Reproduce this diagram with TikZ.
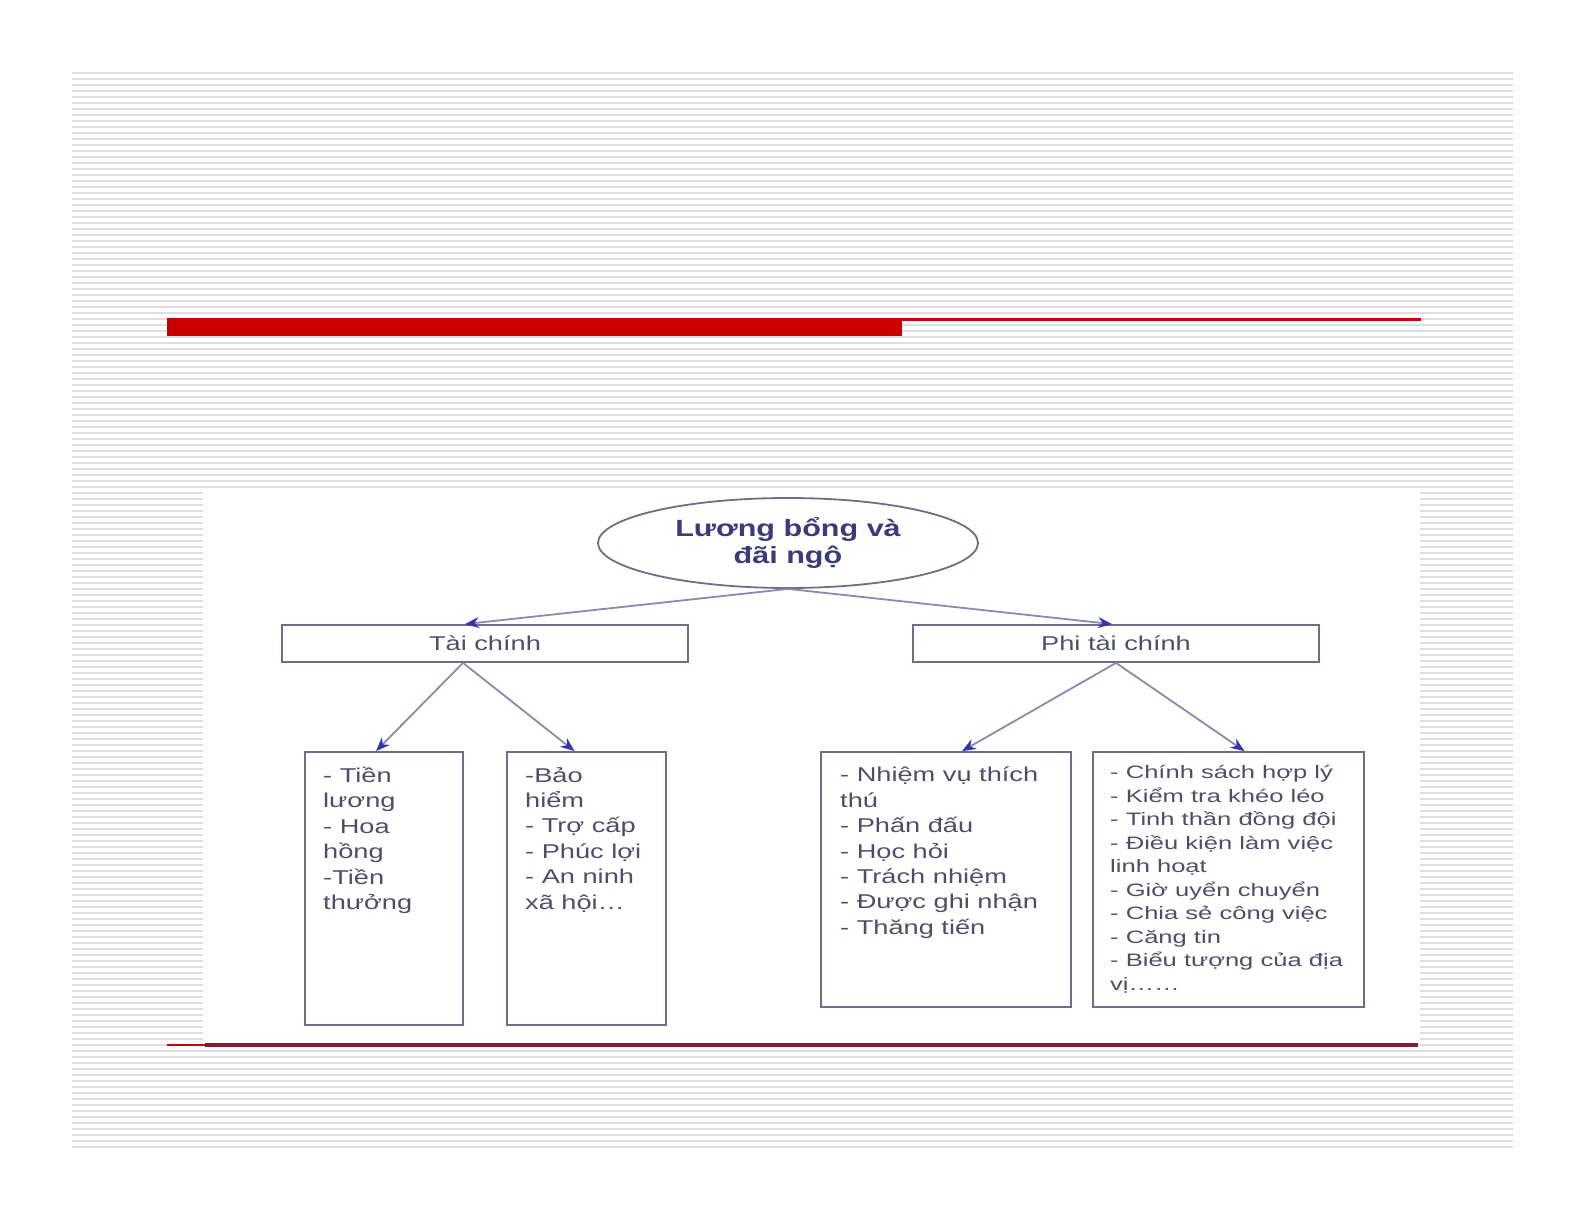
\documentclass[tikz,border=0pt]{standalone}
\usepackage{fontspec}
\setmainfont{Liberation Sans}
\newfontfamily\widefont[FakeStretch=1.36]{Liberation Sans}
\newfontfamily\titlefont[FakeStretch=1.3]{Liberation Sans}
\newfontfamily\widerfont[FakeStretch=1.42]{Liberation Sans}
\usetikzlibrary{shapes.geometric,arrows.meta}
\definecolor{stripe}{HTML}{DEDEDE}
\definecolor{barred}{HTML}{CC0000}
\definecolor{maroon}{HTML}{7A2030}
\definecolor{boxline}{HTML}{6E6E88}
\definecolor{conn}{HTML}{8A8AB0}
\definecolor{tipblue}{HTML}{3434B0}
\definecolor{txt}{HTML}{4E4E6A}
\definecolor{titletxt}{HTML}{3B3B7B}
\tikzset{
  box/.style={draw=boxline, line width=1.8pt, rectangle, inner sep=0pt},
  boxtext/.style={anchor=north west, inner sep=0pt, align=left, text=txt,
    font=\widefont\fontsize{20}{25.4}\selectfont},
  smalltext/.style={anchor=north west, inner sep=0pt, align=left, text=txt,
    font=\widerfont\fontsize{18}{23.5}\selectfont},
  conn/.style={draw=conn, line width=1.8pt,
    -{Stealth[length=14pt,width=11pt,color=tipblue]}},
}
\begin{document}
\begin{tikzpicture}[x=1pt,y=-1pt]
\useasboundingbox (0,0) rectangle (1585,1225);
\fill[white] (0,0) rectangle (1585,1225);
% striped slide background
\foreach \k in {0,...,179}
  \draw[stripe, line width=2pt] (72,{73+6*\k}) -- (1513,{73+6*\k});
% red title bar
\fill[barred] (167,318) rectangle (902,336);
\fill[barred] (902,318) rectangle (1421,320.5);
% white picture area
\fill[white] (203,491) rectangle (1420,1043);
% bottom lines
\fill[barred] (167,1043.5) rectangle (205,1046);
\fill[maroon] (205,1043) rectangle (1418,1046.5);

% nodes
\node[ellipse, draw=boxline, line width=1.8pt, minimum width=380pt, minimum height=90pt,
  inner sep=0pt, align=center, text=titletxt,
  font=\titlefont\bfseries\fontsize{23.5}{27}\selectfont] (root) at (788,543)
  {\raisebox{-3pt}{Lương bổng và}\\\raisebox{-3pt}{đãi ngộ}};
\node[box, minimum width=406pt, minimum height=37pt, text=txt,
  font=\widefont\fontsize{20}{24}\selectfont] (tc) at (485,643.5) {\raisebox{-2pt}{Tài chính}};
\node[box, minimum width=406pt, minimum height=37pt, text=txt,
  font=\widefont\fontsize{20}{24}\selectfont] (ptc) at (1116,643.5) {\raisebox{-2pt}{Phi tài chính}};

\node[box, minimum width=158pt, minimum height=273pt] (b1) at (384,888.5) {};
\node[box, minimum width=159pt, minimum height=273pt] (b2) at (586.5,888.5) {};
\node[box, minimum width=250pt, minimum height=255pt] (b3) at (946,879.5) {};
\node[box, minimum width=271pt, minimum height=255pt] (b4) at (1228.5,879.5) {};

\node[boxtext] (t1) at (323,767) {- Tiền\\lương\\- Hoa\\hồng\\-Tiền\\thưởng};
\node[boxtext] (t2) at (525,767) {-Bảo\\hiểm\\- Trợ cấp\\- Phúc lợi\\- An ninh\\xã hội…};
\node[boxtext] (t3) at (840,767) {- Nhiệm vụ thích\\thú\\- Phấn đấu\\- Học hỏi\\- Trách nhiệm\\- Được ghi nhận\\- Thăng tiến};
\node[smalltext] (t4) at (1110,765.5) {- Chính sách hợp lý\\- Kiểm tra khéo léo\\- Tinh thần đồng đội\\- Điều kiện làm việc\\linh hoạt\\- Giờ uyển chuyển\\- Chia sẻ công việc\\- Căng tin\\- Biểu tượng của địa\\vị……};

% connectors
\draw[conn] (root.south) -- ([xshift=-20pt]tc.north);
\draw[conn] (root.south) -- ([xshift=-4pt]ptc.north);
\draw[conn] ([xshift=-22pt]tc.south) -- ([xshift=-8pt]b1.north);
\draw[conn] ([xshift=-22pt]tc.south) -- ([xshift=-12pt]b2.north);
\draw[conn] (ptc.south) -- ([xshift=16pt]b3.north);
\draw[conn] (ptc.south) -- ([xshift=16pt]b4.north);
\end{tikzpicture}
\end{document}
